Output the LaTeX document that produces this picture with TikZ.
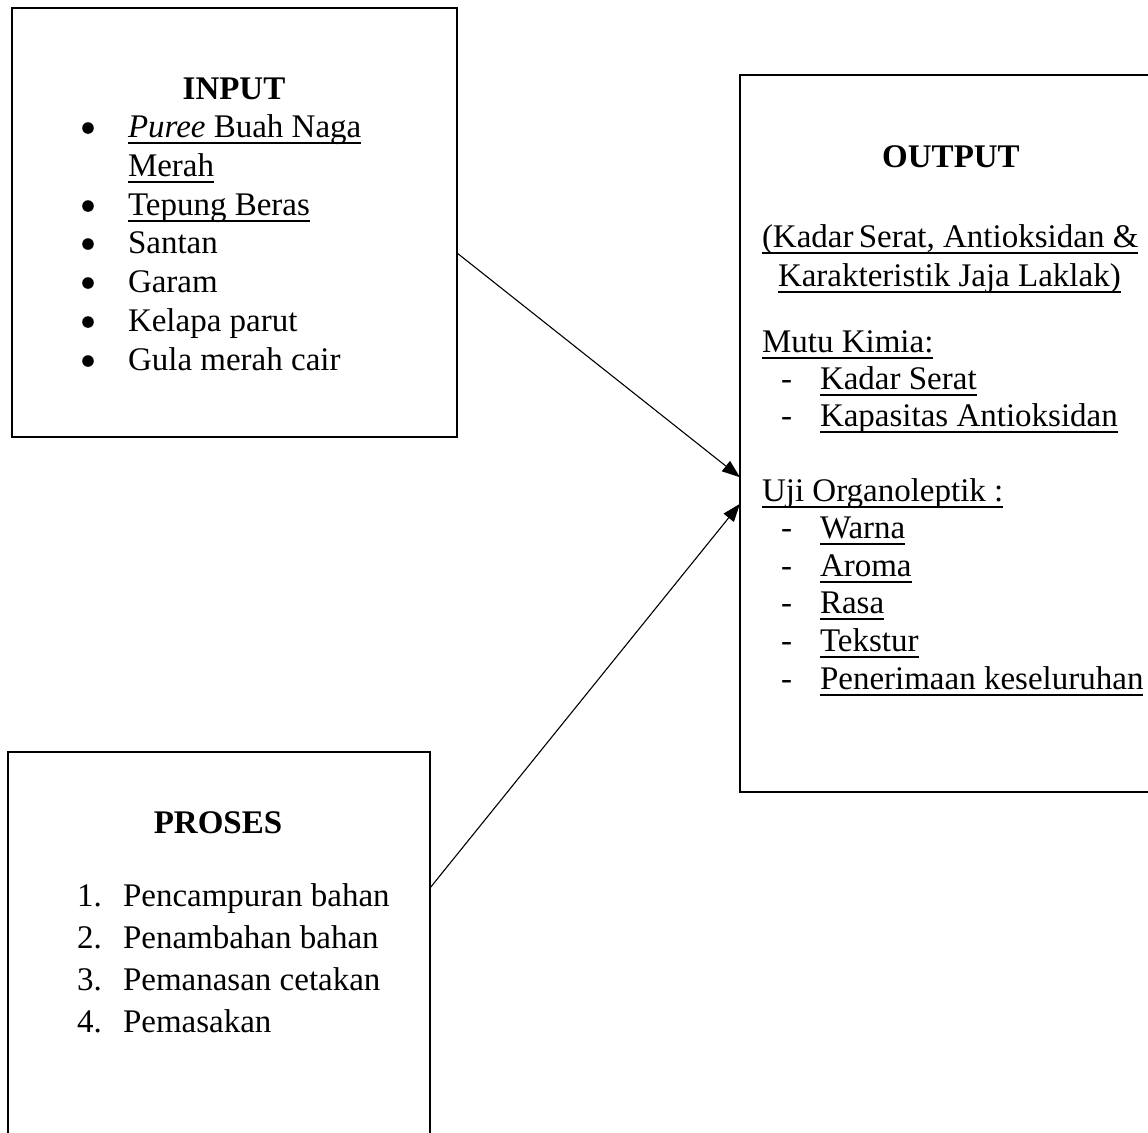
\documentclass[tikz,border=0pt]{standalone}
\usepackage{fontspec}
\setmainfont{Liberation Serif}
\usetikzlibrary{arrows.meta,calc}
\newcommand\uln[1]{\setbox0\hbox{#1}\rlap{\rule[-3.4pt]{\wd0}{0.85pt}}\box0}
\begin{document}
\begin{tikzpicture}[x=0.5pt,y=-0.5pt,
  boxshape/.style={draw,line width=1.3pt,rectangle,inner sep=0,outer sep=0,anchor=north west},
  txt/.style={anchor=base west,inner sep=0,outer sep=0,font=\fontsize{16.5}{19}\selectfont},
  ttl/.style={anchor=base,inner sep=0,outer sep=0,font=\fontsize{16.5}{19}\selectfont\bfseries},
  bul/.style={circle,fill,inner sep=0,minimum size=5.8pt},
  arr/.style={line width=0.55pt,-{Triangle[length=9pt,width=6.5pt]}}]
\useasboundingbox (0,0) rectangle (1148,1132);
% boxes
\node[boxshape,minimum width=222.5pt,minimum height=214.5pt] (inbox) at (12,8) {};
\node[boxshape,minimum width=215pt,minimum height=358.5pt] (outbox) at (740,75) {};
\node[boxshape,minimum width=211pt,minimum height=196.5pt] (procbox) at (8,752) {};
% INPUT
\node[ttl] (intitle) at (234,99) {INPUT};
\node[bul] (b1) at (88,128) {};
\node[bul] (b2) at (88,206) {};
\node[bul] (b3) at (88,244) {};
\node[bul] (b4) at (88,283) {};
\node[bul] (b5) at (88,322) {};
\node[bul] (b6) at (88,361) {};
\node[txt] (i1) at (128,137) {\uln{\textit{Puree} Buah Naga}};
\node[txt] (i1b) at (128,176) {\uln{Merah}};
\node[txt] (i2) at (128,215) {\uln{Tepung Beras}};
\node[txt] (i3) at (128,253) {Santan};
\node[txt] (i4) at (128,292) {Garam};
\node[txt] (i5) at (128,331) {Kelapa parut};
\node[txt] (i6) at (128,370) {Gula merah cair};
% OUTPUT
\node[ttl] (outtitle) at (951,167) {OUTPUT};
\node[txt] (o1) at (762,247) {\uln{(Kadar\hspace{-1.5pt} Serat, Antioksidan \&}};
\node[txt] (o2) at (778,286) {\uln{Karakteristik Jaja Laklak)}};
\node[txt] (mk) at (762,352) {\uln{Mutu Kimia:}};
\node[txt] (d1) at (781,389) {-};
\node[txt] (m1) at (820,389) {\uln{Kadar Serat}};
\node[txt] (d2) at (781,426) {-};
\node[txt] (m2) at (820,426) {\uln{Kapasitas Antioksidan}};
\node[txt] (uo) at (762,501) {\uln{Uji Organoleptik :}};
\node[txt] (d3) at (781,538) {-};
\node[txt] (u1) at (820,538) {\uln{Warna}};
\node[txt] (d4) at (781,576) {-};
\node[txt] (u2) at (820,576) {\uln{Aroma}};
\node[txt] (d5) at (781,613) {-};
\node[txt] (u3) at (820,613) {\uln{Rasa}};
\node[txt] (d6) at (781,651) {-};
\node[txt] (u4) at (820,651) {\uln{Tekstur}};
\node[txt] (d7) at (781,689) {-};
\node[txt] (u5) at (820,689) {\uln{Penerimaan keseluruhan}};
% PROSES
\node[ttl] (proctitle) at (218,833) {PROSES};
\node[txt] (n1) at (77,906) {1.};
\node[txt] (p1) at (123,906) {Pencampuran bahan};
\node[txt] (n2) at (77,948) {2.};
\node[txt] (p2) at (123,948) {Penambahan bahan};
\node[txt] (n3) at (77,990) {3.};
\node[txt] (p3) at (123,990) {Pemanasan cetakan};
\node[txt] (n4) at (77,1032) {4.};
\node[txt] (p4) at (123,1032) {Pemasakan};
% connectors
\coordinate (inout) at ($(inbox.north east)!0.571!(inbox.south east)$);
\coordinate (procout) at ($(procbox.north east)!0.346!(procbox.south east)$);
\coordinate (outin1) at ($(outbox.north west)!0.561!(outbox.south west)$);
\coordinate (outin2) at ($(outbox.north west)!0.598!(outbox.south west)$);
\draw[arr] (inout) -- (outin1);
\draw[arr] (procout) -- (outin2);
\end{tikzpicture}
\end{document}
